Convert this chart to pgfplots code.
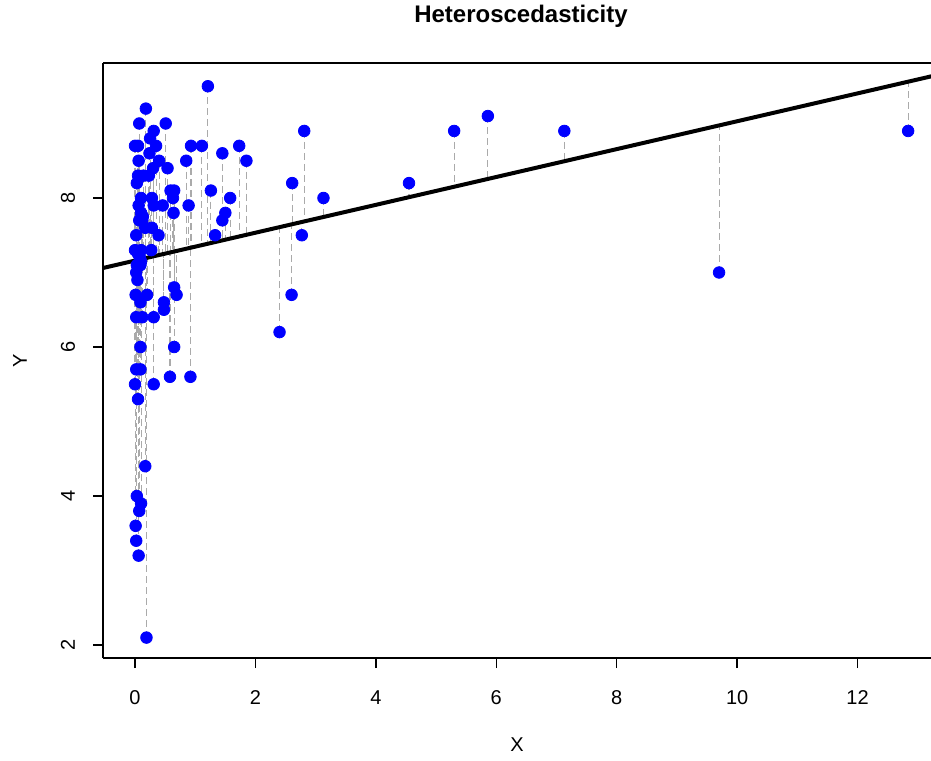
\documentclass[border=0pt]{standalone}
\usepackage{pgfplots}
\usepackage{pgfplotstable}
\pgfplotsset{compat=1.18}
\usepackage{fontspec}
\setmainfont{Liberation Sans}
\definecolor{ptblue}{RGB}{0,0,255}
\definecolor{resgray}{RGB}{170,170,170}

\pgfplotstableread{
x y
1.21 9.5
0.18 9.2
0.07 9.0
0.51 9.0
0.31 8.9
0.25 8.8
0.00 8.7
0.05 8.7
0.35 8.7
0.93 8.7
1.11 8.7
1.73 8.7
0.24 8.6
1.45 8.6
0.06 8.5
0.40 8.5
0.85 8.5
1.85 8.5
0.30 8.4
0.54 8.4
0.05 8.3
0.14 8.3
0.23 8.3
0.03 8.2
0.59 8.1
0.65 8.1
1.26 8.1
0.10 8.0
0.28 8.0
0.63 8.0
1.58 8.0
0.06 7.9
0.31 7.9
0.46 7.9
0.89 7.9
0.64 7.8
1.50 7.8
0.10 7.8
0.13 7.75
0.07 7.7
0.12 7.7
1.45 7.7
0.17 7.6
0.28 7.6
0.02 7.5
0.39 7.5
1.33 7.5
2.77 7.5
0.00 7.3
0.10 7.3
0.27 7.3
0.05 7.25
0.08 7.2
0.10 7.15
0.03 7.1
0.09 7.1
0.02 7.0
0.04 6.9
0.65 6.8
0.69 6.7
0.01 6.7
0.20 6.7
0.09 6.6
0.48 6.6
0.48 6.5
0.02 6.4
0.12 6.4
0.31 6.4
0.09 6.0
0.65 6.0
0.02 5.7
0.09 5.7
0.58 5.6
0.92 5.6
0.00 5.5
0.31 5.5
0.05 5.3
0.17 4.4
0.03 4.0
0.10 3.9
0.07 3.8
0.01 3.6
0.02 3.4
0.06 3.2
0.19 2.1
2.81 8.9
2.61 8.2
3.13 8.0
2.60 6.7
2.40 6.2
4.55 8.2
5.30 8.9
5.86 9.1
7.13 8.9
9.70 7.0
12.84 8.9
}\datatable

\begin{document}
\begin{tikzpicture}
\begin{axis}[
  name=ax,
  at={(0,0)}, anchor=south west,
  scale only axis,
  width=414pt, height=297.5pt,
  xmin=-0.532, xmax=13.22,
  ymin=1.826, ymax=9.812,
  axis x line*=bottom, axis y line*=left,
  axis line style={line width=0.7pt},
  xtick={0,2,4,6,8,10,12},
  ytick={2,4,6,8},
  tick align=outside,
  major tick length=5pt,
  tick style={line width=0.7pt, black},
  /pgf/number format/assume math mode=true,
  xticklabel style={anchor=center, yshift=-15pt, font=\fontsize{10}{12}\selectfont},
  yticklabel style={rotate=90, anchor=center, yshift=12.5pt, font=\fontsize{10}{12}\selectfont},
  xlabel={X}, ylabel={Y},
  xlabel style={at={(axis description cs:0.5,0)}, anchor=center, yshift=-43.5pt, font=\fontsize{10}{12}\selectfont},
  ylabel style={at={(axis description cs:0,0.5)}, anchor=center, yshift=41.5pt, font=\fontsize{10}{12}\selectfont},
  title={Heteroscedasticity},
  title style={at={(axis description cs:0.5,1)}, anchor=center, yshift=17.5pt, xshift=2pt, font=\fontsize{12}{14}\selectfont\bfseries},
]
\addplot[resgray, line width=0.55pt, dash pattern=on 3.5pt off 2pt,
  quiver={u=0, v={7.16+0.187*\thisrow{x}-\thisrow{y}}}] table[x=x, y=y] {\datatable};
\addplot[only marks, mark=*, mark size=2.9pt, mark options={fill=ptblue, draw=ptblue}] table[x=x, y=y] {\datatable};
\addplot[black, line width=2pt] coordinates {(-0.7,7.0291) (13.4,9.6658)};
\draw[line width=0.7pt] (rel axis cs:0,1) -- (rel axis cs:1,1);
\end{axis}
\pgfresetboundingbox
\path[use as bounding box] ([xshift=-51.5pt,yshift=-51pt]ax.south west) rectangle ([yshift=31.5pt]ax.north east);
\end{tikzpicture}
\end{document}
